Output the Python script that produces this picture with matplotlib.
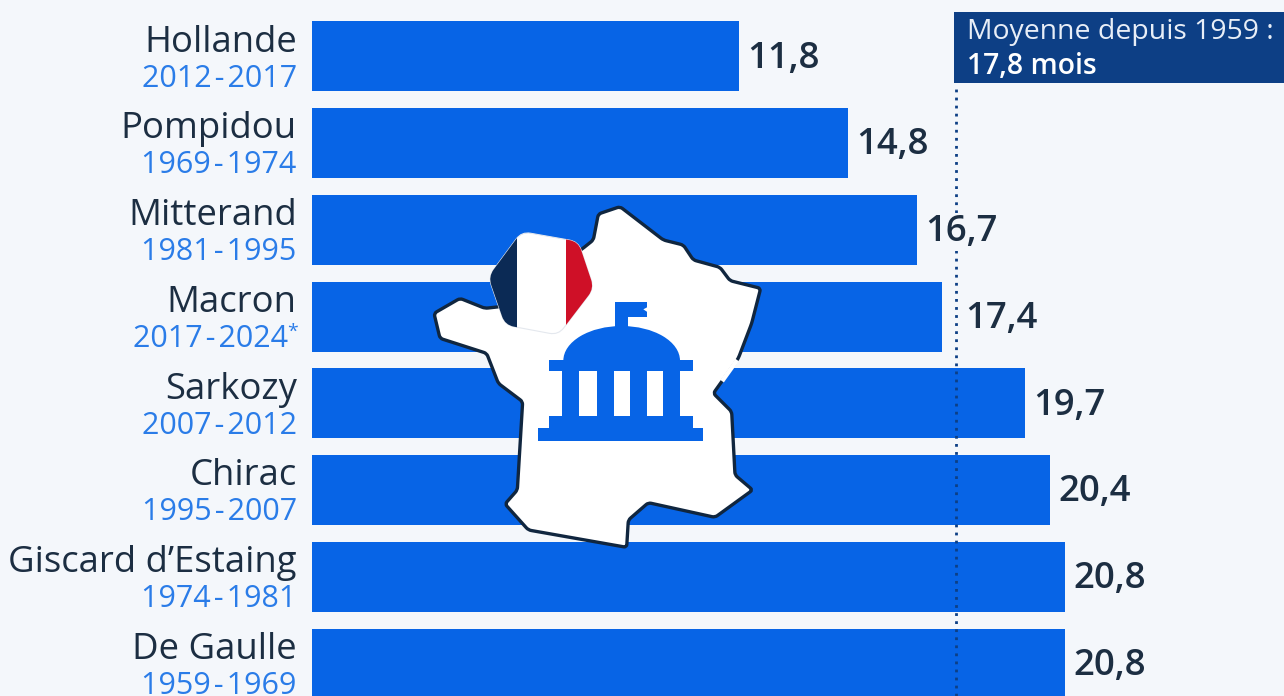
#! /usr/bin/env python
'''
Duree moyenne des gouvernements par president
'''
import matplotlib
matplotlib.use('Agg')
import matplotlib.pyplot as plt
import numpy as np
from matplotlib.patches import PathPatch, Rectangle, Ellipse, Polygon
from matplotlib.path import Path

names = ['Hollande', 'Pompidou', 'Mitterand', 'Macron', 'Sarkozy', 'Chirac',
         'Giscard d\u2019Estaing', 'De Gaulle']
years = ['2012-2017', '1969-1974', '1981-1995', '2017-2024', '2007-2012',
         '1995-2007', '1974-1981', '1959-1969']
values = [11.8, 14.8, 16.7, 17.4, 19.7, 20.4, 20.8, 20.8]
mean_value = 17.8

# icon outlines, in zoomed crop coordinates
france_x = [570, 505, 490, 455, 330, 210, 165, 90, 12, 30, 170, 205, 278, 262, 225, 295,
            590, 595, 655, 855, 968, 915, 905, 850, 925, 965, 992, 900, 870, 790, 760, 700]
france_y = [50, 72, 150, 178, 250, 350, 355, 325, 370, 445, 490, 580, 635, 900, 942, 1020,
            1072, 990, 938, 982, 900, 855, 665, 610, 505, 400, 295, 272, 232, 210, 165, 150]
flag_x = [275, 445, 492, 385, 225, 175]
flag_y = [125, 155, 295, 435, 405, 260]

BG = '#f4f7fb'
BLUE = '#0764e6'
DARK = '#1c2e42'
YEAR = '#2a7ce8'
NAVY = '#0d3f85'
FONT = 'Open Sans'


def zx(x):
    return 430 + x / 3.0


def zy(y):
    return 190 + y / 3.0


def Rounded(xs, ys, r):
    # closed path through the points with the corners cut by curves
    pts = np.array([(zx(a), zy(b)) for a, b in zip(xs, ys)])
    n = len(pts)
    verts, codes = [], []
    for i in range(n):
        p, prev, nxt = pts[i], pts[i - 1], pts[(i + 1) % n]
        d0 = (prev - p) / np.hypot(*(prev - p))
        d1 = (nxt - p) / np.hypot(*(nxt - p))
        r0 = min(r, np.hypot(*(prev - p)) / 2)
        r1 = min(r, np.hypot(*(nxt - p)) / 2)
        verts.append(p + d0 * r0)
        codes.append(Path.MOVETO if i == 0 else Path.LINETO)
        verts += [p, p + d1 * r1]
        codes += [Path.CURVE3, Path.CURVE3]
    verts.append(verts[0])
    codes.append(Path.CLOSEPOLY)
    return Path(verts, codes)


def DoIcon(ov):
    ov.add_patch(PathPatch(Rounded(france_x, france_y, 3), fc='white', ec='#10263f', lw=2.4,
                           joinstyle='round', zorder=5))
    # the outline fades out on the east side
    ov.plot([zx(917.5), zx(880)], [zy(515.5), zy(568)], color='white', lw=3.2, zorder=5.5)

    # flag, three stripes clipped to a rounded shape
    clip = PathPatch(Rounded(flag_x, flag_y, 9), fc='white', ec='#e4e8ee', lw=0.8, zorder=6)
    ov.add_patch(clip)
    for x0, x1, col in [(170, 262, '#0b2a55'), (407, 500, '#cf1027')]:
        r = Rectangle((zx(x0), zy(110)), (x1 - x0) / 3.0, 115, fc=col, ec='none', zorder=7)
        ov.add_patch(r)
        r.set_clip_path(clip)

    # building
    boxes = [(555, 335, 595, 420), (555, 335, 652, 382), (358, 510, 790, 543),
             (397, 543, 750, 680), (358, 677, 790, 718), (325, 715, 818, 753)]
    for x0, y0, x1, y1 in boxes:
        ov.add_patch(Rectangle((zx(x0), zy(y0)), (x1 - x0) / 3.0, (y1 - y0) / 3.0,
                               fc=BLUE, ec='none', zorder=8))
    ov.add_patch(Polygon([(zx(655), zy(350)), (zx(640), zy(358)), (zx(655), zy(368))],
                         fc='white', ec='none', zorder=8.5))
    dome = Ellipse((zx(575), zy(512)), 350 / 3.0, 208 / 3.0, fc=BLUE, ec='none', zorder=8)
    ov.add_patch(dome)
    for x0, x1 in [(447, 500), (552, 600), (652, 700)]:
        ov.add_patch(Rectangle((zx(x0), zy(543)), (x1 - x0) / 3.0, 134 / 3.0,
                               fc='white', ec='none', zorder=9))


def DoFig(filename):
    W, H = 1284, 696
    fig = plt.figure(figsize=(W / 100.0, H / 100.0), dpi=100, facecolor=BG)

    ax = fig.add_axes([312.0 / W, 0, (W - 312.0) / W, 1])
    ax.set_facecolor('none')
    ax.set_xlim(0, (W - 312.0) / 36.2)
    ax.set_ylim(7.372, -0.651)
    ax.axis('off')

    pos = range(len(values))
    ax.barh(pos, values, height=0.807, color=BLUE, zorder=2)
    ax.axvline(mean_value, ymax=0.875, color=NAVY, lw=2, ls=(0, (1, 1.9)), zorder=3)

    for i in pos:
        # the label just left of the mean line is pushed past it
        off = 17 if names[i] == 'Macron' else 6
        ax.annotate(str(values[i]).replace('.', ','), (values[i], i), xytext=(off, -1.5),
                    textcoords='offset points', ha='left', va='center', fontsize=26.3,
                    fontweight='semibold', color=DARK, family=FONT, zorder=4,
                    bbox=dict(fc=BG, ec='none', pad=0.5))
        ax.annotate(names[i], (0, i), xytext=(-11, 10), textcoords='offset points',
                    ha='right', va='center', fontsize=26.3, color=DARK, family=FONT,
                    annotation_clip=False)
        lab = years[i].replace('-', '\u200a-\u200a')
        right = -11
        if names[i] == 'Macron':
            ax.annotate('*', (0, i), xytext=(-10.5, -11), textcoords='offset points',
                        ha='right', va='center', fontsize=14, color=YEAR, family=FONT,
                        annotation_clip=False)
            right = -17
        ax.annotate(lab, (0, i), xytext=(right, -16), textcoords='offset points',
                    ha='right', va='center', fontsize=22, color=YEAR, family=FONT,
                    annotation_clip=False)

    # overlay in pixels for the callout and the map icon
    ov = fig.add_axes([0, 0, 1, 1])
    ov.set_xlim(0, W)
    ov.set_ylim(H, 0)
    ov.axis('off')
    ov.patch.set_alpha(0)
    ov.add_patch(Rectangle((954, 12), W - 954, 71, fc=NAVY, ec='none', zorder=3))
    ov.text(967, 32, 'Moyenne depuis 1959 :', color='#e8eef7', fontsize=20.4, family=FONT,
            ha='left', va='center', zorder=4)
    ov.text(967, 67, '17,8 mois', color='white', fontsize=20.4, family=FONT, fontweight='semibold',
            ha='left', va='center', zorder=4)
    DoIcon(ov)

    fig.savefig(filename, dpi=100, facecolor=BG)


if __name__ == '__main__':
    DoFig('out.png')
